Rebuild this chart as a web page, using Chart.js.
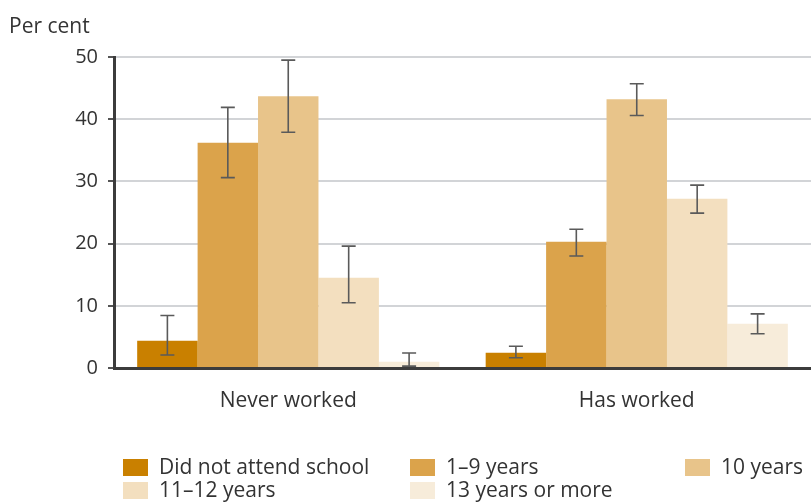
<!DOCTYPE html>
<html>
<head>
<meta charset="utf-8">
<script src="https://cdn.jsdelivr.net/npm/chart.js@4"></script>
<style>
  body { margin: 0; background: #fff; font-family: "Open Sans", sans-serif; }
  #wrap { position: relative; width: 811px; height: 504px; }
  #chart { position: absolute; left: 0; top: 0; }
  #legend { position: absolute; left: 0; top: 0; width: 811px; height: 504px; pointer-events: none; }
  .item { position: absolute; font-size: 21px; color: #333; line-height: 21px; white-space: nowrap; }
  .box { position: absolute; width: 25px; height: 17px; }
  .lbl { position: absolute; }
</style>
</head>
<body>
<div id="wrap">
  <canvas id="chart" width="811" height="440"></canvas>
  <div id="legend"></div>
</div>
<script>
let categories = ["Never worked", "Has worked"];
let seriesNames = ["Did not attend school", "1\u20139 years", "10 years", "11\u201312 years", "13 years or more"];
let colours = ["#c98000", "#dba34b", "#e8c48a", "#f3dfbf", "#f7ecda"];

let noSchool = [4.4, 2.45];
let years1to9 = [36.2, 20.3];
let years10 = [43.7, 43.2];
let years11to12 = [14.5, 27.2];
let years13 = [1.0, 7.1];

let noSchoolErr = [[2.1, 8.45], [1.65, 3.5]];
let years1to9Err = [[30.6, 41.9], [18.0, 22.3]];
let years10Err = [[37.9, 49.5], [40.6, 45.7]];
let years11to12Err = [[10.5, 19.6], [24.9, 29.4]];
let years13Err = [[0.3, 2.4], [5.5, 8.7]];

let yTicks = [0, 10, 20, 30, 40, 50];

let values = [noSchool, years1to9, years10, years11to12, years13];
let errors = [noSchoolErr, years1to9Err, years10Err, years11to12Err, years13Err];

let datasets = [];
for (let i = 0; i < seriesNames.length; i++) {
    datasets.push({
        label: seriesNames[i],
        data: values[i],
        errors: errors[i],
        backgroundColor: colours[i],
        borderWidth: 0,
        categoryPercentage: 0.867,
        barPercentage: 1.0
    });
}

// error bars drawn from the y scale
const errorBars = {
    id: "errorBars",
    afterDatasetsDraw(chart) {
        const ctx = chart.ctx;
        const y = chart.scales.y;
        ctx.save();
        ctx.strokeStyle = "#5a5a5a";
        ctx.lineWidth = 1.6;
        chart.data.datasets.forEach(function(ds, i) {
            const meta = chart.getDatasetMeta(i);
            meta.data.forEach(function(bar, j) {
                const lo = y.getPixelForValue(ds.errors[j][0]);
                const hi = y.getPixelForValue(ds.errors[j][1]);
                ctx.beginPath();
                ctx.moveTo(bar.x, lo);
                ctx.lineTo(bar.x, hi);
                ctx.moveTo(bar.x - 7, lo);
                ctx.lineTo(bar.x + 7, lo);
                ctx.moveTo(bar.x - 7, hi);
                ctx.lineTo(bar.x + 7, hi);
                ctx.stroke();
            });
        });
        ctx.restore();
    }
};

const unitLabel = {
    id: "unitLabel",
    afterDraw(chart) {
        const ctx = chart.ctx;
        ctx.save();
        ctx.font = "21px 'Open Sans'";
        ctx.fillStyle = "#333";
        ctx.textBaseline = "alphabetic";
        ctx.fillText("Per cent", 9, 33);
        ctx.restore();
    }
};

const chart = new Chart(document.getElementById("chart"), {
    type: "bar",
    data: { labels: categories, datasets: datasets },
    plugins: [errorBars, unitLabel],
    options: {
        responsive: false,
        animation: false,
        layout: { padding: { top: 57, right: 0, left: 0, bottom: 0 } },
        scales: {
            x: {
                grid: { display: false },
                border: { display: true, color: "#3c3c3c", width: 3 },
                ticks: { color: "#333", font: { family: "Open Sans", size: 21 }, padding: 12 },
                afterFit(scale) { scale.height = 72; }
            },
            y: {
                min: 0,
                max: 50,
                afterBuildTicks(scale) { scale.ticks = yTicks.map(v => ({ value: v })); },
                grid: { color: "#d2d4d7", lineWidth: 2, tickColor: "#555", tickLength: 6 },
                border: { display: true, color: "#3c3c3c", width: 3 },
                ticks: { color: "#333", font: { family: "Open Sans", size: 20 }, padding: 10 },
                afterFit(scale) { scale.width = 114; }
            }
        },
        plugins: {
            legend: { display: false },
            tooltip: { enabled: false }
        }
    }
});

// legend laid out in three columns like the original
let legendPos = [[123, 459], [410, 459], [685, 459], [123, 482], [410, 482]];
let legend = document.getElementById("legend");
chart.data.datasets.forEach(function(ds, i) {
    let item = document.createElement("div");
    item.className = "item";
    item.style.left = legendPos[i][0] + "px";
    item.style.top = legendPos[i][1] + "px";
    item.innerHTML = '<span class="box" style="left:0;top:0;background:' + ds.backgroundColor + '"></span>' +
        '<span class="lbl" style="left:36px;top:-3px">' + ds.label + '</span>';
    legend.appendChild(item);
});
</script>
</body>
</html>
